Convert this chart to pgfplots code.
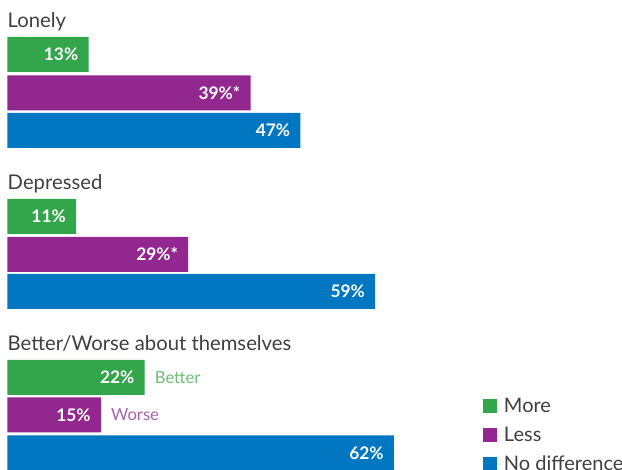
\documentclass[border=0pt]{standalone}
\usepackage{pgfplots}
\pgfplotsset{compat=1.18}
\usepackage{fontspec}
\setmainfont{Lato}
\definecolor{cgreen}{HTML}{33A54B}
\definecolor{cpurple}{HTML}{92278F}
\definecolor{cblue}{HTML}{0077C0}
\definecolor{lgreen}{HTML}{6DBF78}
\definecolor{lpurple}{HTML}{A962AE}
\definecolor{txt}{HTML}{3F3F3F}

\begin{document}
\begin{tikzpicture}
\begin{axis}[
    scale only axis,
    width=466.5pt, height=352.5pt,
    xmin=-1.2, xmax=98.6, ymin=0, ymax=470,
    y dir=reverse,
    axis lines=none,
    clip=false,
    xbar, bar shift=0pt, bar width=35,
    point meta=explicit symbolic,
    nodes near coords,
    nodes near coords style={anchor=east, inner sep=0pt, xshift=-7.5pt,
        font=\fontsize{13}{13}\selectfont\bfseries, text=white},
    legend cell align=left,
    legend image code/.code={\fill[#1,draw=none] (0pt,-5.25pt) rectangle (10.5pt,5.25pt);
        \path (0pt,0pt) -- (14pt,0pt);},
    legend style={at={(axis cs:76.2,395)}, anchor=north west, draw=none, fill=none,
        inner sep=0pt, row sep=5.5pt, font=\fontsize{15}{15}\selectfont\color{txt}},
]
\addplot[fill=cgreen, draw=none] coordinates {
    (13,54.5) [13\%] (11,216.5) [11\%] (22,377.5) [22\%]};
\addplot[fill=cpurple, draw=none] coordinates {
    (39,93) [39\%*] (29,254.5) [29\%*] (15,415) [15\%]};
\addplot[fill=cblue, draw=none] coordinates {
    (47,130.5) [47\%] (59,291.5) [59\%] (62,453) [62\%]};
\legend{More, Less, No difference}

\node[anchor=base west, inner sep=0pt, text=txt, font=\fontsize{15.2}{15.2}\selectfont]
    at (axis cs:0,28) {Lonely};
\node[anchor=base west, inner sep=0pt, text=txt, font=\fontsize{15.2}{15.2}\selectfont]
    at (axis cs:0,190) {Depressed};
\node[anchor=base west, inner sep=0pt, text=txt, font=\fontsize{15.2}{15.2}\selectfont]
    at (axis cs:0,351) {Better/Worse about themselves};
\node[anchor=west, inner sep=0pt, text=lgreen, font=\fontsize{12.5}{12.5}\selectfont]
    at (axis cs:23.6,377.5) {Better};
\node[anchor=west, inner sep=0pt, text=lpurple, font=\fontsize{12.5}{12.5}\selectfont]
    at (axis cs:16.6,415) {Worse};
\end{axis}
\pgfresetboundingbox
\useasboundingbox (current axis.south west) rectangle (current axis.north east);
\end{tikzpicture}
\end{document}
